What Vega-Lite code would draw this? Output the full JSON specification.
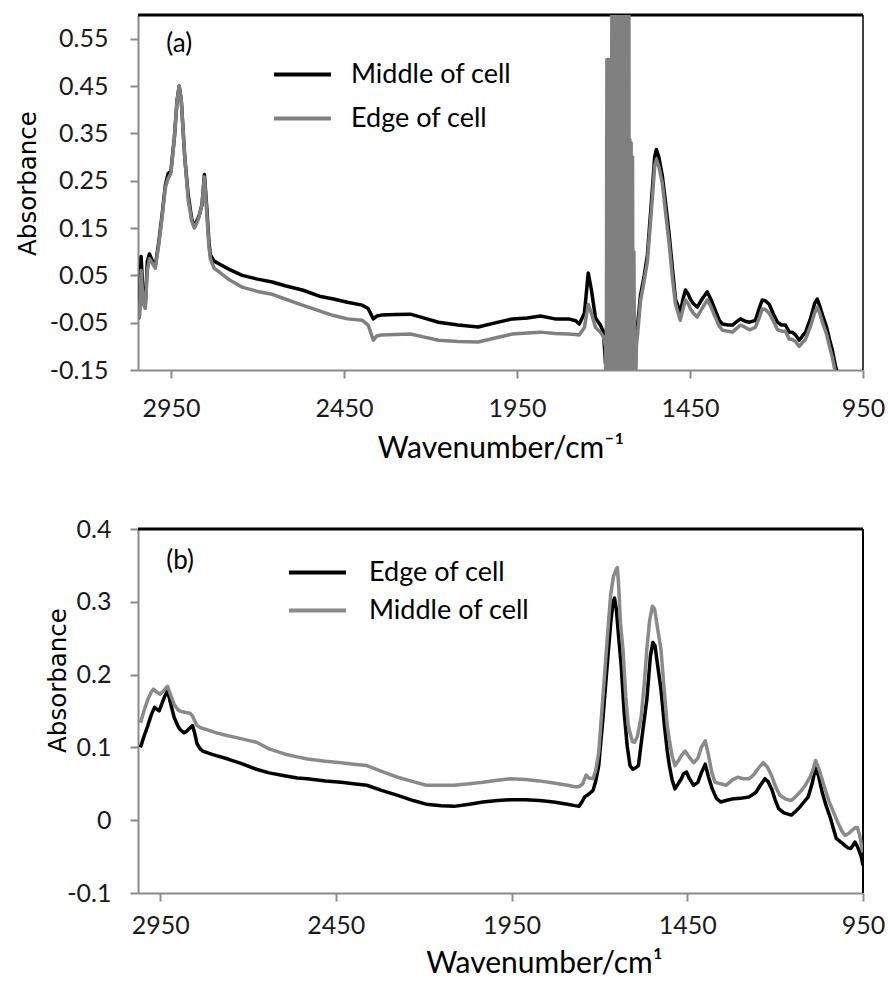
{
  "$schema": "https://vega.github.io/schema/vega-lite/v6.json",
  "background": "white",
  "padding": {"left": 15, "top": 13, "right": 0, "bottom": 0},
  "spacing": 54,
  "config": {
    "view": {"stroke": null},
    "axis": {
      "grid": false,
      "domainColor": "#8a8a8a", "domainWidth": 2,
      "tickColor": "#8a8a8a", "tickWidth": 2, "tickSize": 8,
      "labelFont": "Lato", "labelFontSize": 25, "labelColor": "#1a1a1a",
      "titleFont": "Lato, DejaVu Sans", "titleFontWeight": "normal", "titleColor": "#000",
      "labelFlush": false, "labelOverlap": false
    },
    "legend": {
      "orient": "none", "title": null, "labelLimit": 0,
      "symbolType": "M-3,0H3", "symbolStrokeWidth": 4,
      "labelFont": "Lato", "labelColor": "#000"
    }
  },
  "resolve": {"scale": {"x": "independent", "y": "independent", "color": "independent"}, "legend": {"color": "independent"}},
  "datasets": {
    "a": [
      {"series":"Middle of cell","wn":3050,"abs":-0.01},{"series":"Middle of cell","wn":3045,"abs":-0.03},{"series":"Middle of cell","wn":3041,"abs":-0.035},{"series":"Middle of cell","wn":3036,"abs":0.09},{"series":"Middle of cell","wn":3030,"abs":0.0},{"series":"Middle of cell","wn":3024,"abs":-0.015},{"series":"Middle of cell","wn":3018,"abs":0.08},{"series":"Middle of cell","wn":3012,"abs":0.095},{"series":"Middle of cell","wn":3003,"abs":0.08},{"series":"Middle of cell","wn":2995,"abs":0.07},{"series":"Middle of cell","wn":2985,"abs":0.12},{"series":"Middle of cell","wn":2975,"abs":0.18},{"series":"Middle of cell","wn":2966,"abs":0.24},{"series":"Middle of cell","wn":2958,"abs":0.265},{"series":"Middle of cell","wn":2950,"abs":0.27},{"series":"Middle of cell","wn":2940,"abs":0.34},{"series":"Middle of cell","wn":2932,"abs":0.42},{"series":"Middle of cell","wn":2926,"abs":0.45},{"series":"Middle of cell","wn":2920,"abs":0.42},{"series":"Middle of cell","wn":2910,"abs":0.3},{"series":"Middle of cell","wn":2900,"abs":0.22},{"series":"Middle of cell","wn":2890,"abs":0.17},{"series":"Middle of cell","wn":2882,"abs":0.152},{"series":"Middle of cell","wn":2875,"abs":0.165},{"series":"Middle of cell","wn":2868,"abs":0.177},{"series":"Middle of cell","wn":2860,"abs":0.2},{"series":"Middle of cell","wn":2853,"abs":0.263},{"series":"Middle of cell","wn":2847,"abs":0.2},{"series":"Middle of cell","wn":2840,"abs":0.12},{"series":"Middle of cell","wn":2836,"abs":0.093},{"series":"Middle of cell","wn":2825,"abs":0.08},{"series":"Middle of cell","wn":2810,"abs":0.074},{"series":"Middle of cell","wn":2780,"abs":0.062},{"series":"Middle of cell","wn":2744,"abs":0.05},{"series":"Middle of cell","wn":2700,"abs":0.042},{"series":"Middle of cell","wn":2657,"abs":0.036},{"series":"Middle of cell","wn":2620,"abs":0.028},{"series":"Middle of cell","wn":2570,"abs":0.019},{"series":"Middle of cell","wn":2521,"abs":0.006},{"series":"Middle of cell","wn":2480,"abs":0.0},{"series":"Middle of cell","wn":2440,"abs":-0.007},{"series":"Middle of cell","wn":2397,"abs":-0.013},{"series":"Middle of cell","wn":2380,"abs":-0.02},{"series":"Middle of cell","wn":2365,"abs":-0.042},{"series":"Middle of cell","wn":2355,"abs":-0.036},{"series":"Middle of cell","wn":2342,"abs":-0.034},{"series":"Middle of cell","wn":2300,"abs":-0.033},{"series":"Middle of cell","wn":2258,"abs":-0.032},{"series":"Middle of cell","wn":2220,"abs":-0.04},{"series":"Middle of cell","wn":2177,"abs":-0.049},{"series":"Middle of cell","wn":2120,"abs":-0.055},{"series":"Middle of cell","wn":2062,"abs":-0.059},{"series":"Middle of cell","wn":2010,"abs":-0.05},{"series":"Middle of cell","wn":1963,"abs":-0.042},{"series":"Middle of cell","wn":1920,"abs":-0.04},{"series":"Middle of cell","wn":1882,"abs":-0.036},{"series":"Middle of cell","wn":1840,"abs":-0.042},{"series":"Middle of cell","wn":1801,"abs":-0.042},{"series":"Middle of cell","wn":1780,"abs":-0.046},{"series":"Middle of cell","wn":1770,"abs":-0.053},{"series":"Middle of cell","wn":1755,"abs":-0.03},{"series":"Middle of cell","wn":1744,"abs":0.055},{"series":"Middle of cell","wn":1735,"abs":0.02},{"series":"Middle of cell","wn":1723,"abs":-0.04},{"series":"Middle of cell","wn":1709,"abs":-0.055},{"series":"Middle of cell","wn":1700,"abs":-0.07},{"series":"Middle of cell","wn":1694,"abs":-0.137},{"series":"Middle of cell","wn":1691,"abs":-0.06},{"series":"Middle of cell","wn":1688,"abs":-0.4},{"series":"Middle of cell","wn":1627,"abs":-0.4},{"series":"Middle of cell","wn":1620,"abs":0.145},{"series":"Middle of cell","wn":1616,"abs":0.084},{"series":"Middle of cell","wn":1613,"abs":-0.3},{"series":"Middle of cell","wn":1606,"abs":-0.08},{"series":"Middle of cell","wn":1602,"abs":-0.06},{"series":"Middle of cell","wn":1593,"abs":0.008},{"series":"Middle of cell","wn":1582,"abs":0.05},{"series":"Middle of cell","wn":1573,"abs":0.093},{"series":"Middle of cell","wn":1560,"abs":0.22},{"series":"Middle of cell","wn":1552,"abs":0.3},{"series":"Middle of cell","wn":1547,"abs":0.316},{"series":"Middle of cell","wn":1540,"abs":0.3},{"series":"Middle of cell","wn":1530,"abs":0.261},{"series":"Middle of cell","wn":1520,"abs":0.2},{"series":"Middle of cell","wn":1510,"abs":0.135},{"series":"Middle of cell","wn":1500,"abs":0.06},{"series":"Middle of cell","wn":1492,"abs":0.0},{"series":"Middle of cell","wn":1478,"abs":-0.028},{"series":"Middle of cell","wn":1470,"abs":0.0},{"series":"Middle of cell","wn":1463,"abs":0.019},{"series":"Middle of cell","wn":1455,"abs":0.01},{"series":"Middle of cell","wn":1449,"abs":0.0},{"series":"Middle of cell","wn":1440,"abs":-0.01},{"series":"Middle of cell","wn":1429,"abs":-0.017},{"series":"Middle of cell","wn":1415,"abs":0.0},{"series":"Middle of cell","wn":1400,"abs":0.015},{"series":"Middle of cell","wn":1390,"abs":0.0},{"series":"Middle of cell","wn":1379,"abs":-0.02},{"series":"Middle of cell","wn":1365,"abs":-0.045},{"series":"Middle of cell","wn":1356,"abs":-0.053},{"series":"Middle of cell","wn":1340,"abs":-0.055},{"series":"Middle of cell","wn":1327,"abs":-0.055},{"series":"Middle of cell","wn":1315,"abs":-0.048},{"series":"Middle of cell","wn":1304,"abs":-0.042},{"series":"Middle of cell","wn":1290,"abs":-0.047},{"series":"Middle of cell","wn":1278,"abs":-0.049},{"series":"Middle of cell","wn":1261,"abs":-0.045},{"series":"Middle of cell","wn":1250,"abs":-0.02},{"series":"Middle of cell","wn":1241,"abs":-0.002},{"series":"Middle of cell","wn":1232,"abs":-0.004},{"series":"Middle of cell","wn":1221,"abs":-0.011},{"series":"Middle of cell","wn":1210,"abs":-0.03},{"series":"Middle of cell","wn":1197,"abs":-0.049},{"series":"Middle of cell","wn":1185,"abs":-0.055},{"series":"Middle of cell","wn":1174,"abs":-0.055},{"series":"Middle of cell","wn":1163,"abs":-0.07},{"series":"Middle of cell","wn":1155,"abs":-0.07},{"series":"Middle of cell","wn":1145,"abs":-0.076},{"series":"Middle of cell","wn":1134,"abs":-0.087},{"series":"Middle of cell","wn":1125,"abs":-0.078},{"series":"Middle of cell","wn":1116,"abs":-0.07},{"series":"Middle of cell","wn":1102,"abs":-0.042},{"series":"Middle of cell","wn":1090,"abs":-0.01},{"series":"Middle of cell","wn":1082,"abs":0.0},{"series":"Middle of cell","wn":1075,"abs":-0.015},{"series":"Middle of cell","wn":1067,"abs":-0.034},{"series":"Middle of cell","wn":1055,"abs":-0.06},{"series":"Middle of cell","wn":1047,"abs":-0.085},{"series":"Middle of cell","wn":1038,"abs":-0.11},{"series":"Middle of cell","wn":1030,"abs":-0.14},{"series":"Middle of cell","wn":1020,"abs":-0.17},{"series":"Middle of cell","wn":1000,"abs":-0.25},
      {"series":"Edge of cell","wn":3050,"abs":-0.02},{"series":"Edge of cell","wn":3045,"abs":-0.035},{"series":"Edge of cell","wn":3041,"abs":-0.04},{"series":"Edge of cell","wn":3036,"abs":0.06},{"series":"Edge of cell","wn":3030,"abs":-0.01},{"series":"Edge of cell","wn":3024,"abs":-0.02},{"series":"Edge of cell","wn":3018,"abs":0.06},{"series":"Edge of cell","wn":3012,"abs":0.085},{"series":"Edge of cell","wn":3003,"abs":0.075},{"series":"Edge of cell","wn":2995,"abs":0.065},{"series":"Edge of cell","wn":2985,"abs":0.115},{"series":"Edge of cell","wn":2975,"abs":0.175},{"series":"Edge of cell","wn":2966,"abs":0.235},{"series":"Edge of cell","wn":2958,"abs":0.255},{"series":"Edge of cell","wn":2950,"abs":0.265},{"series":"Edge of cell","wn":2940,"abs":0.34},{"series":"Edge of cell","wn":2932,"abs":0.42},{"series":"Edge of cell","wn":2926,"abs":0.45},{"series":"Edge of cell","wn":2920,"abs":0.42},{"series":"Edge of cell","wn":2910,"abs":0.3},{"series":"Edge of cell","wn":2900,"abs":0.21},{"series":"Edge of cell","wn":2890,"abs":0.165},{"series":"Edge of cell","wn":2882,"abs":0.15},{"series":"Edge of cell","wn":2875,"abs":0.16},{"series":"Edge of cell","wn":2868,"abs":0.175},{"series":"Edge of cell","wn":2860,"abs":0.2},{"series":"Edge of cell","wn":2853,"abs":0.258},{"series":"Edge of cell","wn":2847,"abs":0.19},{"series":"Edge of cell","wn":2840,"abs":0.11},{"series":"Edge of cell","wn":2836,"abs":0.085},{"series":"Edge of cell","wn":2825,"abs":0.065},{"series":"Edge of cell","wn":2810,"abs":0.057},{"series":"Edge of cell","wn":2780,"abs":0.04},{"series":"Edge of cell","wn":2744,"abs":0.025},{"series":"Edge of cell","wn":2700,"abs":0.016},{"series":"Edge of cell","wn":2657,"abs":0.01},{"series":"Edge of cell","wn":2620,"abs":0.0},{"series":"Edge of cell","wn":2570,"abs":-0.013},{"series":"Edge of cell","wn":2521,"abs":-0.025},{"series":"Edge of cell","wn":2480,"abs":-0.035},{"series":"Edge of cell","wn":2440,"abs":-0.042},{"series":"Edge of cell","wn":2397,"abs":-0.045},{"series":"Edge of cell","wn":2380,"abs":-0.055},{"series":"Edge of cell","wn":2365,"abs":-0.087},{"series":"Edge of cell","wn":2355,"abs":-0.078},{"series":"Edge of cell","wn":2342,"abs":-0.076},{"series":"Edge of cell","wn":2300,"abs":-0.075},{"series":"Edge of cell","wn":2258,"abs":-0.074},{"series":"Edge of cell","wn":2220,"abs":-0.08},{"series":"Edge of cell","wn":2177,"abs":-0.087},{"series":"Edge of cell","wn":2120,"abs":-0.09},{"series":"Edge of cell","wn":2062,"abs":-0.091},{"series":"Edge of cell","wn":2010,"abs":-0.082},{"series":"Edge of cell","wn":1963,"abs":-0.074},{"series":"Edge of cell","wn":1920,"abs":-0.072},{"series":"Edge of cell","wn":1882,"abs":-0.07},{"series":"Edge of cell","wn":1840,"abs":-0.073},{"series":"Edge of cell","wn":1801,"abs":-0.074},{"series":"Edge of cell","wn":1780,"abs":-0.075},{"series":"Edge of cell","wn":1770,"abs":-0.076},{"series":"Edge of cell","wn":1755,"abs":-0.06},{"series":"Edge of cell","wn":1744,"abs":-0.011},{"series":"Edge of cell","wn":1735,"abs":-0.03},{"series":"Edge of cell","wn":1723,"abs":-0.06},{"series":"Edge of cell","wn":1709,"abs":-0.07},{"series":"Edge of cell","wn":1700,"abs":-0.08},{"series":"Edge of cell","wn":1694,"abs":-0.1},{"series":"Edge of cell","wn":1692,"abs":-0.3},
      {"series":"Edge of cell","wn":1690,"abs":0.506},{"series":"Edge of cell","wn":1689,"abs":-0.4},{"series":"Edge of cell","wn":1688,"abs":0.506},{"series":"Edge of cell","wn":1687,"abs":-0.4},{"series":"Edge of cell","wn":1686,"abs":0.506},{"series":"Edge of cell","wn":1685,"abs":-0.4},{"series":"Edge of cell","wn":1684,"abs":0.506},{"series":"Edge of cell","wn":1683,"abs":-0.4},{"series":"Edge of cell","wn":1682,"abs":0.506},{"series":"Edge of cell","wn":1681,"abs":-0.4},{"series":"Edge of cell","wn":1680,"abs":0.506},{"series":"Edge of cell","wn":1679,"abs":-0.4},{"series":"Edge of cell","wn":1678,"abs":0.506},{"series":"Edge of cell","wn":1677,"abs":-0.4},{"series":"Edge of cell","wn":1676,"abs":0.506},
      {"series":"Edge of cell","wn":1675,"abs":1.0},{"series":"Edge of cell","wn":1673,"abs":-0.5},{"series":"Edge of cell","wn":1671,"abs":1.0},{"series":"Edge of cell","wn":1669,"abs":-0.5},{"series":"Edge of cell","wn":1667,"abs":1.0},{"series":"Edge of cell","wn":1665,"abs":-0.5},{"series":"Edge of cell","wn":1663,"abs":1.0},{"series":"Edge of cell","wn":1661,"abs":-0.5},{"series":"Edge of cell","wn":1659,"abs":1.0},{"series":"Edge of cell","wn":1657,"abs":-0.5},{"series":"Edge of cell","wn":1655,"abs":1.0},{"series":"Edge of cell","wn":1653,"abs":-0.5},{"series":"Edge of cell","wn":1651,"abs":1.0},{"series":"Edge of cell","wn":1649,"abs":-0.5},{"series":"Edge of cell","wn":1647,"abs":1.0},{"series":"Edge of cell","wn":1645,"abs":-0.5},{"series":"Edge of cell","wn":1643,"abs":1.0},{"series":"Edge of cell","wn":1641,"abs":-0.5},{"series":"Edge of cell","wn":1639,"abs":1.0},{"series":"Edge of cell","wn":1637,"abs":-0.5},{"series":"Edge of cell","wn":1635,"abs":1.0},{"series":"Edge of cell","wn":1633,"abs":-0.5},{"series":"Edge of cell","wn":1631,"abs":1.0},{"series":"Edge of cell","wn":1629,"abs":-0.5},{"series":"Edge of cell","wn":1627,"abs":1.0},{"series":"Edge of cell","wn":1625,"abs":-0.5},
      {"series":"Edge of cell","wn":1624,"abs":0.337},{"series":"Edge of cell","wn":1622,"abs":-0.4},{"series":"Edge of cell","wn":1620,"abs":0.33},{"series":"Edge of cell","wn":1618,"abs":-0.4},{"series":"Edge of cell","wn":1616,"abs":0.3},{"series":"Edge of cell","wn":1614,"abs":-0.4},{"series":"Edge of cell","wn":1612,"abs":0.1},{"series":"Edge of cell","wn":1609,"abs":-0.3},{"series":"Edge of cell","wn":1605,"abs":-0.1},{"series":"Edge of cell","wn":1602,"abs":-0.08},
      {"series":"Edge of cell","wn":1593,"abs":-0.005},{"series":"Edge of cell","wn":1582,"abs":0.04},{"series":"Edge of cell","wn":1573,"abs":0.08},{"series":"Edge of cell","wn":1560,"abs":0.2},{"series":"Edge of cell","wn":1552,"abs":0.28},{"series":"Edge of cell","wn":1547,"abs":0.295},{"series":"Edge of cell","wn":1540,"abs":0.28},{"series":"Edge of cell","wn":1530,"abs":0.245},{"series":"Edge of cell","wn":1520,"abs":0.18},{"series":"Edge of cell","wn":1510,"abs":0.115},{"series":"Edge of cell","wn":1500,"abs":0.04},{"series":"Edge of cell","wn":1492,"abs":-0.01},{"series":"Edge of cell","wn":1478,"abs":-0.045},{"series":"Edge of cell","wn":1470,"abs":-0.02},{"series":"Edge of cell","wn":1463,"abs":-0.002},{"series":"Edge of cell","wn":1455,"abs":-0.01},{"series":"Edge of cell","wn":1449,"abs":-0.02},{"series":"Edge of cell","wn":1440,"abs":-0.03},{"series":"Edge of cell","wn":1429,"abs":-0.038},{"series":"Edge of cell","wn":1415,"abs":-0.02},{"series":"Edge of cell","wn":1400,"abs":-0.002},{"series":"Edge of cell","wn":1390,"abs":-0.015},{"series":"Edge of cell","wn":1379,"abs":-0.035},{"series":"Edge of cell","wn":1365,"abs":-0.058},{"series":"Edge of cell","wn":1356,"abs":-0.066},{"series":"Edge of cell","wn":1340,"abs":-0.068},{"series":"Edge of cell","wn":1327,"abs":-0.07},{"series":"Edge of cell","wn":1315,"abs":-0.062},{"series":"Edge of cell","wn":1304,"abs":-0.055},{"series":"Edge of cell","wn":1290,"abs":-0.06},{"series":"Edge of cell","wn":1278,"abs":-0.065},{"series":"Edge of cell","wn":1261,"abs":-0.06},{"series":"Edge of cell","wn":1250,"abs":-0.04},{"series":"Edge of cell","wn":1241,"abs":-0.021},{"series":"Edge of cell","wn":1232,"abs":-0.022},{"series":"Edge of cell","wn":1221,"abs":-0.03},{"series":"Edge of cell","wn":1210,"abs":-0.045},{"series":"Edge of cell","wn":1197,"abs":-0.065},{"series":"Edge of cell","wn":1185,"abs":-0.068},{"series":"Edge of cell","wn":1174,"abs":-0.068},{"series":"Edge of cell","wn":1163,"abs":-0.085},{"series":"Edge of cell","wn":1155,"abs":-0.085},{"series":"Edge of cell","wn":1145,"abs":-0.09},{"series":"Edge of cell","wn":1134,"abs":-0.1},{"series":"Edge of cell","wn":1125,"abs":-0.092},{"series":"Edge of cell","wn":1116,"abs":-0.085},{"series":"Edge of cell","wn":1102,"abs":-0.058},{"series":"Edge of cell","wn":1090,"abs":-0.03},{"series":"Edge of cell","wn":1082,"abs":-0.017},{"series":"Edge of cell","wn":1075,"abs":-0.03},{"series":"Edge of cell","wn":1067,"abs":-0.05},{"series":"Edge of cell","wn":1055,"abs":-0.075},{"series":"Edge of cell","wn":1047,"abs":-0.1},{"series":"Edge of cell","wn":1038,"abs":-0.125},{"series":"Edge of cell","wn":1030,"abs":-0.155},{"series":"Edge of cell","wn":1020,"abs":-0.19},{"series":"Edge of cell","wn":1000,"abs":-0.27}
    ],
    "b": [
      {"series":"Edge of cell","wn":3006,"abs":0.1},{"series":"Edge of cell","wn":2996,"abs":0.115},{"series":"Edge of cell","wn":2985,"abs":0.13},{"series":"Edge of cell","wn":2975,"abs":0.145},{"series":"Edge of cell","wn":2966,"abs":0.155},{"series":"Edge of cell","wn":2953,"abs":0.15},{"series":"Edge of cell","wn":2945,"abs":0.16},{"series":"Edge of cell","wn":2937,"abs":0.17},{"series":"Edge of cell","wn":2929,"abs":0.178},{"series":"Edge of cell","wn":2920,"abs":0.16},{"series":"Edge of cell","wn":2910,"abs":0.141},{"series":"Edge of cell","wn":2900,"abs":0.13},{"series":"Edge of cell","wn":2894,"abs":0.125},{"series":"Edge of cell","wn":2882,"abs":0.12},{"series":"Edge of cell","wn":2875,"abs":0.122},{"series":"Edge of cell","wn":2869,"abs":0.125},{"series":"Edge of cell","wn":2858,"abs":0.13},{"series":"Edge of cell","wn":2852,"abs":0.12},{"series":"Edge of cell","wn":2845,"abs":0.105},{"series":"Edge of cell","wn":2836,"abs":0.098},{"series":"Edge of cell","wn":2829,"abs":0.095},{"series":"Edge of cell","wn":2800,"abs":0.09},{"series":"Edge of cell","wn":2757,"abs":0.084},{"series":"Edge of cell","wn":2720,"abs":0.078},{"series":"Edge of cell","wn":2676,"abs":0.07},{"series":"Edge of cell","wn":2640,"abs":0.065},{"series":"Edge of cell","wn":2596,"abs":0.061},{"series":"Edge of cell","wn":2560,"abs":0.058},{"series":"Edge of cell","wn":2531,"abs":0.057},{"series":"Edge of cell","wn":2480,"abs":0.054},{"series":"Edge of cell","wn":2435,"abs":0.052},{"series":"Edge of cell","wn":2400,"abs":0.05},{"series":"Edge of cell","wn":2362,"abs":0.048},{"series":"Edge of cell","wn":2320,"abs":0.041},{"series":"Edge of cell","wn":2274,"abs":0.034},{"series":"Edge of cell","wn":2230,"abs":0.027},{"series":"Edge of cell","wn":2193,"abs":0.022},{"series":"Edge of cell","wn":2150,"abs":0.02},{"series":"Edge of cell","wn":2113,"abs":0.019},{"series":"Edge of cell","wn":2070,"abs":0.022},{"series":"Edge of cell","wn":2032,"abs":0.025},{"series":"Edge of cell","wn":1990,"abs":0.027},{"series":"Edge of cell","wn":1952,"abs":0.028},{"series":"Edge of cell","wn":1910,"abs":0.028},{"series":"Edge of cell","wn":1871,"abs":0.027},{"series":"Edge of cell","wn":1830,"abs":0.025},{"series":"Edge of cell","wn":1791,"abs":0.022},{"series":"Edge of cell","wn":1770,"abs":0.02},{"series":"Edge of cell","wn":1758,"abs":0.019},{"series":"Edge of cell","wn":1750,"abs":0.025},{"series":"Edge of cell","wn":1742,"abs":0.032},{"series":"Edge of cell","wn":1730,"abs":0.036},{"series":"Edge of cell","wn":1718,"abs":0.041},{"series":"Edge of cell","wn":1710,"abs":0.055},{"series":"Edge of cell","wn":1702,"abs":0.075},{"series":"Edge of cell","wn":1690,"abs":0.14},{"series":"Edge of cell","wn":1678,"abs":0.212},{"series":"Edge of cell","wn":1668,"abs":0.27},{"series":"Edge of cell","wn":1661,"abs":0.3},{"series":"Edge of cell","wn":1657,"abs":0.305},{"series":"Edge of cell","wn":1652,"abs":0.29},{"series":"Edge of cell","wn":1645,"abs":0.25},{"series":"Edge of cell","wn":1638,"abs":0.212},{"series":"Edge of cell","wn":1630,"abs":0.15},{"series":"Edge of cell","wn":1621,"abs":0.102},{"series":"Edge of cell","wn":1613,"abs":0.075},{"series":"Edge of cell","wn":1605,"abs":0.07},{"series":"Edge of cell","wn":1597,"abs":0.072},{"series":"Edge of cell","wn":1589,"abs":0.075},{"series":"Edge of cell","wn":1580,"abs":0.11},{"series":"Edge of cell","wn":1572,"abs":0.14},{"series":"Edge of cell","wn":1565,"abs":0.166},{"series":"Edge of cell","wn":1555,"abs":0.225},{"series":"Edge of cell","wn":1548,"abs":0.244},{"series":"Edge of cell","wn":1542,"abs":0.24},{"series":"Edge of cell","wn":1535,"abs":0.215},{"series":"Edge of cell","wn":1525,"abs":0.18},{"series":"Edge of cell","wn":1515,"abs":0.13},{"series":"Edge of cell","wn":1507,"abs":0.095},{"series":"Edge of cell","wn":1501,"abs":0.075},{"series":"Edge of cell","wn":1493,"abs":0.055},{"series":"Edge of cell","wn":1485,"abs":0.043},{"series":"Edge of cell","wn":1476,"abs":0.05},{"series":"Edge of cell","wn":1467,"abs":0.057},{"series":"Edge of cell","wn":1460,"abs":0.064},{"series":"Edge of cell","wn":1452,"abs":0.066},{"series":"Edge of cell","wn":1445,"abs":0.058},{"series":"Edge of cell","wn":1432,"abs":0.048},{"series":"Edge of cell","wn":1420,"abs":0.052},{"series":"Edge of cell","wn":1410,"abs":0.065},{"series":"Edge of cell","wn":1399,"abs":0.077},{"series":"Edge of cell","wn":1390,"abs":0.06},{"series":"Edge of cell","wn":1379,"abs":0.043},{"series":"Edge of cell","wn":1367,"abs":0.03},{"series":"Edge of cell","wn":1355,"abs":0.025},{"series":"Edge of cell","wn":1340,"abs":0.027},{"series":"Edge of cell","wn":1323,"abs":0.029},{"series":"Edge of cell","wn":1300,"abs":0.03},{"series":"Edge of cell","wn":1274,"abs":0.032},{"series":"Edge of cell","wn":1255,"abs":0.038},{"series":"Edge of cell","wn":1242,"abs":0.048},{"series":"Edge of cell","wn":1229,"abs":0.057},{"series":"Edge of cell","wn":1220,"abs":0.053},{"series":"Edge of cell","wn":1210,"abs":0.043},{"series":"Edge of cell","wn":1200,"abs":0.028},{"series":"Edge of cell","wn":1190,"abs":0.016},{"series":"Edge of cell","wn":1175,"abs":0.01},{"series":"Edge of cell","wn":1154,"abs":0.007},{"series":"Edge of cell","wn":1142,"abs":0.012},{"series":"Edge of cell","wn":1130,"abs":0.018},{"series":"Edge of cell","wn":1118,"abs":0.025},{"series":"Edge of cell","wn":1106,"abs":0.032},{"series":"Edge of cell","wn":1095,"abs":0.05},{"series":"Edge of cell","wn":1085,"abs":0.072},{"series":"Edge of cell","wn":1076,"abs":0.06},{"series":"Edge of cell","wn":1066,"abs":0.038},{"series":"Edge of cell","wn":1055,"abs":0.02},{"series":"Edge of cell","wn":1042,"abs":0.002},{"series":"Edge of cell","wn":1034,"abs":-0.012},{"series":"Edge of cell","wn":1026,"abs":-0.025},{"series":"Edge of cell","wn":1013,"abs":-0.03},{"series":"Edge of cell","wn":1001,"abs":-0.035},{"series":"Edge of cell","wn":993,"abs":-0.038},{"series":"Edge of cell","wn":985,"abs":-0.039},{"series":"Edge of cell","wn":978,"abs":-0.034},{"series":"Edge of cell","wn":973,"abs":-0.03},{"series":"Edge of cell","wn":966,"abs":-0.036},{"series":"Edge of cell","wn":961,"abs":-0.042},{"series":"Edge of cell","wn":955,"abs":-0.05},{"series":"Edge of cell","wn":950,"abs":-0.062},
      {"series":"Middle of cell","wn":3006,"abs":0.134},{"series":"Middle of cell","wn":2996,"abs":0.15},{"series":"Middle of cell","wn":2985,"abs":0.166},{"series":"Middle of cell","wn":2975,"abs":0.176},{"series":"Middle of cell","wn":2969,"abs":0.18},{"series":"Middle of cell","wn":2960,"abs":0.176},{"series":"Middle of cell","wn":2950,"abs":0.173},{"series":"Middle of cell","wn":2940,"abs":0.178},{"series":"Middle of cell","wn":2929,"abs":0.184},{"series":"Middle of cell","wn":2920,"abs":0.172},{"series":"Middle of cell","wn":2910,"abs":0.159},{"series":"Middle of cell","wn":2900,"abs":0.152},{"series":"Middle of cell","wn":2894,"abs":0.15},{"series":"Middle of cell","wn":2877,"abs":0.148},{"series":"Middle of cell","wn":2865,"abs":0.147},{"series":"Middle of cell","wn":2858,"abs":0.143},{"series":"Middle of cell","wn":2850,"abs":0.135},{"series":"Middle of cell","wn":2845,"abs":0.13},{"series":"Middle of cell","wn":2835,"abs":0.127},{"series":"Middle of cell","wn":2821,"abs":0.125},{"series":"Middle of cell","wn":2790,"abs":0.12},{"series":"Middle of cell","wn":2757,"abs":0.116},{"series":"Middle of cell","wn":2720,"abs":0.112},{"series":"Middle of cell","wn":2676,"abs":0.107},{"series":"Middle of cell","wn":2640,"abs":0.098},{"series":"Middle of cell","wn":2596,"abs":0.091},{"series":"Middle of cell","wn":2560,"abs":0.087},{"series":"Middle of cell","wn":2531,"abs":0.084},{"series":"Middle of cell","wn":2480,"abs":0.081},{"series":"Middle of cell","wn":2435,"abs":0.079},{"series":"Middle of cell","wn":2400,"abs":0.077},{"series":"Middle of cell","wn":2362,"abs":0.075},{"series":"Middle of cell","wn":2320,"abs":0.067},{"series":"Middle of cell","wn":2274,"abs":0.059},{"series":"Middle of cell","wn":2230,"abs":0.053},{"series":"Middle of cell","wn":2193,"abs":0.048},{"series":"Middle of cell","wn":2150,"abs":0.048},{"series":"Middle of cell","wn":2113,"abs":0.048},{"series":"Middle of cell","wn":2070,"abs":0.05},{"series":"Middle of cell","wn":2032,"abs":0.052},{"series":"Middle of cell","wn":1990,"abs":0.055},{"series":"Middle of cell","wn":1952,"abs":0.057},{"series":"Middle of cell","wn":1910,"abs":0.056},{"series":"Middle of cell","wn":1871,"abs":0.054},{"series":"Middle of cell","wn":1830,"abs":0.051},{"series":"Middle of cell","wn":1791,"abs":0.048},{"series":"Middle of cell","wn":1770,"abs":0.046},{"series":"Middle of cell","wn":1758,"abs":0.046},{"series":"Middle of cell","wn":1748,"abs":0.05},{"series":"Middle of cell","wn":1738,"abs":0.062},{"series":"Middle of cell","wn":1730,"abs":0.058},{"series":"Middle of cell","wn":1718,"abs":0.057},{"series":"Middle of cell","wn":1710,"abs":0.07},{"series":"Middle of cell","wn":1702,"abs":0.093},{"series":"Middle of cell","wn":1690,"abs":0.17},{"series":"Middle of cell","wn":1678,"abs":0.248},{"series":"Middle of cell","wn":1668,"abs":0.31},{"series":"Middle of cell","wn":1660,"abs":0.335},{"series":"Middle of cell","wn":1652,"abs":0.345},{"series":"Middle of cell","wn":1649,"abs":0.347},{"series":"Middle of cell","wn":1645,"abs":0.32},{"series":"Middle of cell","wn":1640,"abs":0.27},{"series":"Middle of cell","wn":1633,"abs":0.235},{"series":"Middle of cell","wn":1625,"abs":0.17},{"series":"Middle of cell","wn":1618,"abs":0.13},{"series":"Middle of cell","wn":1613,"abs":0.12},{"series":"Middle of cell","wn":1606,"abs":0.108},{"series":"Middle of cell","wn":1600,"abs":0.107},{"series":"Middle of cell","wn":1592,"abs":0.115},{"series":"Middle of cell","wn":1581,"abs":0.143},{"series":"Middle of cell","wn":1572,"abs":0.19},{"series":"Middle of cell","wn":1565,"abs":0.235},{"series":"Middle of cell","wn":1557,"abs":0.275},{"series":"Middle of cell","wn":1549,"abs":0.294},{"series":"Middle of cell","wn":1543,"abs":0.29},{"series":"Middle of cell","wn":1535,"abs":0.265},{"series":"Middle of cell","wn":1525,"abs":0.235},{"series":"Middle of cell","wn":1515,"abs":0.175},{"series":"Middle of cell","wn":1507,"abs":0.13},{"series":"Middle of cell","wn":1501,"abs":0.11},{"series":"Middle of cell","wn":1493,"abs":0.088},{"series":"Middle of cell","wn":1485,"abs":0.075},{"series":"Middle of cell","wn":1475,"abs":0.082},{"series":"Middle of cell","wn":1465,"abs":0.09},{"series":"Middle of cell","wn":1456,"abs":0.095},{"series":"Middle of cell","wn":1445,"abs":0.087},{"series":"Middle of cell","wn":1432,"abs":0.079},{"series":"Middle of cell","wn":1420,"abs":0.085},{"series":"Middle of cell","wn":1410,"abs":0.1},{"series":"Middle of cell","wn":1399,"abs":0.109},{"series":"Middle of cell","wn":1390,"abs":0.09},{"series":"Middle of cell","wn":1380,"abs":0.065},{"series":"Middle of cell","wn":1371,"abs":0.052},{"series":"Middle of cell","wn":1355,"abs":0.05},{"series":"Middle of cell","wn":1339,"abs":0.048},{"series":"Middle of cell","wn":1323,"abs":0.055},{"series":"Middle of cell","wn":1307,"abs":0.059},{"series":"Middle of cell","wn":1290,"abs":0.057},{"series":"Middle of cell","wn":1274,"abs":0.057},{"series":"Middle of cell","wn":1260,"abs":0.063},{"series":"Middle of cell","wn":1245,"abs":0.073},{"series":"Middle of cell","wn":1234,"abs":0.079},{"series":"Middle of cell","wn":1222,"abs":0.073},{"series":"Middle of cell","wn":1210,"abs":0.061},{"series":"Middle of cell","wn":1198,"abs":0.045},{"series":"Middle of cell","wn":1186,"abs":0.034},{"series":"Middle of cell","wn":1170,"abs":0.029},{"series":"Middle of cell","wn":1154,"abs":0.027},{"series":"Middle of cell","wn":1140,"abs":0.033},{"series":"Middle of cell","wn":1127,"abs":0.04},{"series":"Middle of cell","wn":1114,"abs":0.048},{"series":"Middle of cell","wn":1100,"abs":0.06},{"series":"Middle of cell","wn":1092,"abs":0.07},{"series":"Middle of cell","wn":1085,"abs":0.082},{"series":"Middle of cell","wn":1075,"abs":0.07},{"series":"Middle of cell","wn":1058,"abs":0.043},{"series":"Middle of cell","wn":1046,"abs":0.025},{"series":"Middle of cell","wn":1034,"abs":0.011},{"series":"Middle of cell","wn":1020,"abs":-0.005},{"series":"Middle of cell","wn":1010,"abs":-0.015},{"series":"Middle of cell","wn":1001,"abs":-0.021},{"series":"Middle of cell","wn":990,"abs":-0.018},{"series":"Middle of cell","wn":977,"abs":-0.012},{"series":"Middle of cell","wn":971,"abs":-0.01},{"series":"Middle of cell","wn":966,"abs":-0.01},{"series":"Middle of cell","wn":960,"abs":-0.02},{"series":"Middle of cell","wn":956,"abs":-0.03},{"series":"Middle of cell","wn":950,"abs":-0.044}
    ]
  },
  "vconcat": [
    {
      "width": 725, "height": 355,
      "layer": [
        {"data": {"values": [{}]}, "mark": {"type": "rule", "color": "#000", "strokeWidth": 3}, "encoding": {"y": {"datum": 0.6}}},
        {"data": {"values": [{}]}, "mark": {"type": "rule", "color": "#000", "strokeWidth": 1.5}, "encoding": {"x": {"datum": 950}}},
        {
          "data": {"name": "a"},
          "mark": {"type": "line", "strokeWidth": 3.5, "clip": true, "strokeJoin": "round"},
          "encoding": {
            "x": {"field": "wn", "type": "quantitative",
                  "scale": {"domain": [950, 3045], "reverse": true, "nice": false, "zero": false},
                  "axis": {"values": [2950, 2450, 1950, 1450, 950], "format": "d", "title": "Wavenumber/cm⁻¹", "titleFontSize": 30, "labelPadding": 18, "titlePadding": 12}},
            "y": {"field": "abs", "type": "quantitative",
                  "scale": {"domain": [-0.15, 0.6], "nice": false, "zero": false},
                  "axis": {"values": [-0.15, -0.05, 0.05, 0.15, 0.25, 0.35, 0.45, 0.55], "labelExpr": "replace(format(datum.value, '.2f'), '−', '-')", "title": "Absorbance", "titleFont": "DejaVu Sans", "titleFontSize": 24.5, "titlePadding": 9, "labelPadding": 22, "titleY": 168}},
            "color": {"field": "series", "type": "nominal",
                      "scale": {"domain": ["Middle of cell", "Edge of cell"], "range": ["#000000", "#808080"]},
                      "legend": {"legendX": 151, "legendY": 46, "symbolSize": 361, "labelFontSize": 27, "labelOffset": 35, "rowPadding": 16}}
          }
        },
        {"data": {"values": [{}]}, "mark": {"type": "text", "font": "Lato", "fontSize": 26, "color": "#000", "align": "center", "baseline": "middle"},
         "encoding": {"x": {"datum": 2926}, "y": {"datum": 0.538}, "text": {"value": "(a)"}}}
      ]
    },
    {
      "width": 725, "height": 364,
      "layer": [
        {"data": {"values": [{}]}, "mark": {"type": "rule", "color": "#000", "strokeWidth": 3}, "encoding": {"y": {"datum": 0.4}}},
        {"data": {"values": [{}]}, "mark": {"type": "rule", "color": "#000", "strokeWidth": 2}, "encoding": {"x": {"datum": 950}}},
        {
          "data": {"name": "b"},
          "mark": {"type": "line", "strokeWidth": 3.5, "clip": true, "strokeJoin": "round"},
          "encoding": {
            "x": {"field": "wn", "type": "quantitative",
                  "scale": {"domain": [950, 3013], "reverse": true, "nice": false, "zero": false},
                  "axis": {"values": [2950, 2450, 1950, 1450, 950], "format": "d", "title": "Wavenumber/cm¹", "titleFontSize": 30, "labelPadding": 12, "titlePadding": 10, "titleX": 406}},
            "y": {"field": "abs", "type": "quantitative",
                  "scale": {"domain": [-0.1, 0.4], "nice": false, "zero": false},
                  "axis": {"values": [-0.1, 0, 0.1, 0.2, 0.3, 0.4], "labelExpr": "replace(format(datum.value, '.1~f'), '−', '-')", "title": "Absorbance", "titleFont": "DejaVu Sans", "titleFontSize": 24.5, "titlePadding": -4, "labelPadding": 19, "titleY": 151}},
            "color": {"field": "series", "type": "nominal",
                      "scale": {"domain": ["Edge of cell", "Middle of cell"], "range": ["#000000", "#8a8a8a"]},
                      "legend": {"legendX": 166, "legendY": 30, "symbolSize": 361, "labelFontSize": 27, "labelOffset": 38, "rowPadding": 10}}
          }
        },
        {"data": {"values": [{}]}, "mark": {"type": "text", "font": "Lato", "fontSize": 26, "color": "#000", "align": "center", "baseline": "middle"},
         "encoding": {"x": {"datum": 2893}, "y": {"datum": 0.356}, "text": {"value": "(b)"}}}
      ]
    }
  ]
}
